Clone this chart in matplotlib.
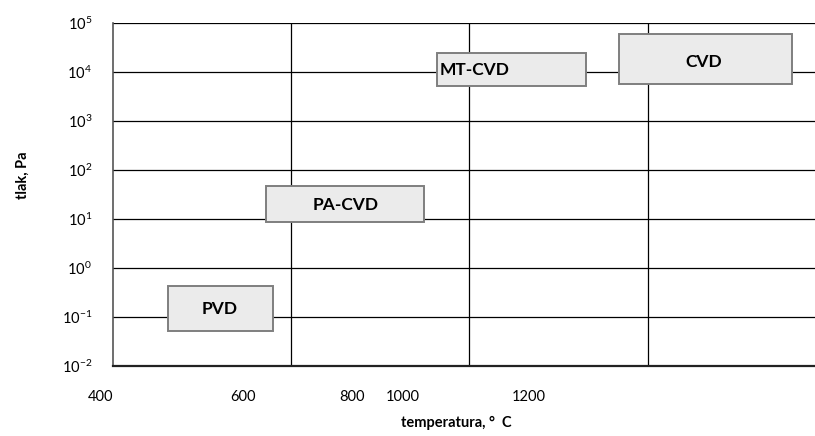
import matplotlib.pyplot as plt
from matplotlib.patches import Rectangle

plt.rcParams['font.family'] = ['Lato', 'DejaVu Sans']
plt.rcParams['mathtext.fontset'] = 'custom'
plt.rcParams['mathtext.rm'] = 'Lato'

# processes: temperature range (C) and pressure range (Pa)
names = ['PVD', 'PA-CVD', 'MT-CVD', 'CVD']
t_lo = [462, 572, 764, 968]
t_hi = [580, 749, 931, 1162]
p_lo = [0.052, 8.5, 5200, 5600]
p_hi = [0.42, 48, 25000, 59000]
label_t = [520, 661, 767, 1063]
label_p = [0.146, 19, 11000, 16000]

grid_t = [600, 800, 1000]
xtick_pos = [386, 546, 668, 725, 866]
xtick_txt = ['400', '600', '800', '1000', '1200']
exps = [-2, -1, 0, 1, 2, 3, 4, 5]

fig = plt.figure(figsize=(8.15, 4.36), dpi=100)
ax = fig.add_axes([113/815, 70/436, 713/815, 343/436])
ax.set_yscale('log')

for e in exps[1:]:
    ax.axhline(10.0**e, color='black', lw=0.9, zorder=1)
for t in grid_t:
    ax.axvline(t, color='black', lw=0.9, zorder=1)

for i, n in enumerate(names):
    ax.add_patch(Rectangle((t_lo[i], p_lo[i]), t_hi[i] - t_lo[i], p_hi[i] - p_lo[i],
                           facecolor='#ebebeb', edgecolor='#7f7f7f', lw=1.4, zorder=2))
    ha = 'left' if n == 'MT-CVD' else 'center'
    ax.text(label_t[i], label_p[i], n, ha=ha, va='center', fontsize=12.5,
            fontweight='bold', zorder=3)

ax.set_yticks([10.0**e for e in exps])
ax.set_yticklabels([r'$\mathregular{10^{%d}}$' % e for e in exps], fontsize=10.5)
ax.yaxis.set_minor_locator(plt.NullLocator())
ax.tick_params(axis='y', length=0, pad=15)
ax.set_xticks([])

# x labels sit off the grid in the original, drawn as axis-anchored text
for pos, txt in zip(xtick_pos, xtick_txt):
    ax.text(pos, -0.09, txt, transform=ax.get_xaxis_transform(), ha='center',
            va='center', fontsize=10.5, clip_on=False)

ax.set_xlim(400, 1200)
ax.set_ylim(1e-2, 1e5)

ax.spines['right'].set_visible(False)
ax.spines['top'].set_visible(False)
ax.spines['left'].set_color('#555555')
ax.spines['left'].set_linewidth(1.2)
ax.spines['bottom'].set_color('#222222')
ax.spines['bottom'].set_linewidth(1.6)

fig.text(23/815, 1 - 175/436, 'tlak, Pa', rotation=90, ha='center', va='center',
         fontsize=10.5, fontweight='bold')
fig.text(456/815, 1 - 423/436, 'temperatura, °  C', ha='center', va='center',
         fontsize=10.5, fontweight='bold')

fig.savefig('out.png', dpi=100)
